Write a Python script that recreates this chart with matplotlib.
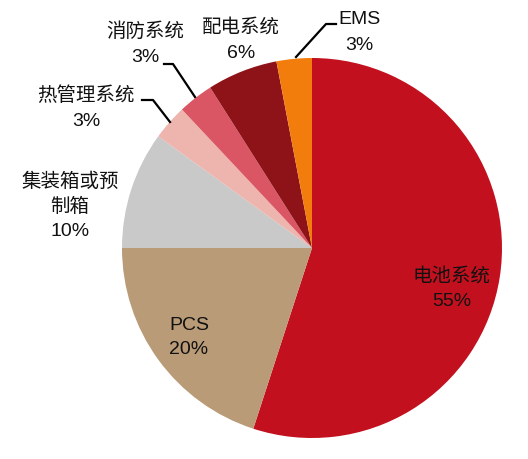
import matplotlib.pyplot as plt

# data
labels = ['电池系统', 'PCS', '集装箱或预\n制箱', '热管理系统', '消防系统', '配电系统', 'EMS']
shares = [55, 20, 10, 3, 3, 6, 3]
colors = ['#C3101E', '#B99B78', '#C9C9C9', '#EDB5AE', '#DB5664', '#8E1318', '#F27D0C']

plt.rcParams['font.family'] = ['Liberation Sans', 'Noto Sans CJK SC', 'DejaVu Sans']

W, H = 528, 459
fig = plt.figure(figsize=(W / 100, H / 100), dpi=100)
ax = fig.add_axes([0, 0, 1, 1])


def py(y):
    # picture row -> axes y
    return H - y


cx, cy, r = 312, py(248), 190
ax.pie(shares, colors=colors, startangle=90, counterclock=False,
       center=(cx, cy), radius=r, frame=True,
       wedgeprops=dict(linewidth=0))
ax.set_xlim(0, W)
ax.set_ylim(0, H)
ax.set_aspect('equal')
ax.axis('off')

# first-line centres (picture pixels), following lines 25 px lower
label_pos = [(452, 277), (189, 325), (70, 182), (86, 96), (145, 32), (241, 28), (359, 20)]
fs = 14
for name, val, (x, y) in zip(labels, shares, label_pos):
    lines = name.split('\n') + [f'{val}%']
    for i, s in enumerate(lines):
        ax.text(x, py(y + 25 * i), s, ha='center', va='center',
                fontsize=fs, color='#111111')

# leader lines
leaders = [
    [(296, 57), (326, 24), (336, 24)],
    [(195, 97), (173, 64), (164, 64)],
    [(170, 122), (153, 100), (142, 100)],
]
for pts in leaders:
    xs = [p[0] for p in pts]
    ys = [py(p[1]) for p in pts]
    ax.plot(xs, ys, color='black', lw=1.6)

fig.savefig('out.png', dpi=100)
